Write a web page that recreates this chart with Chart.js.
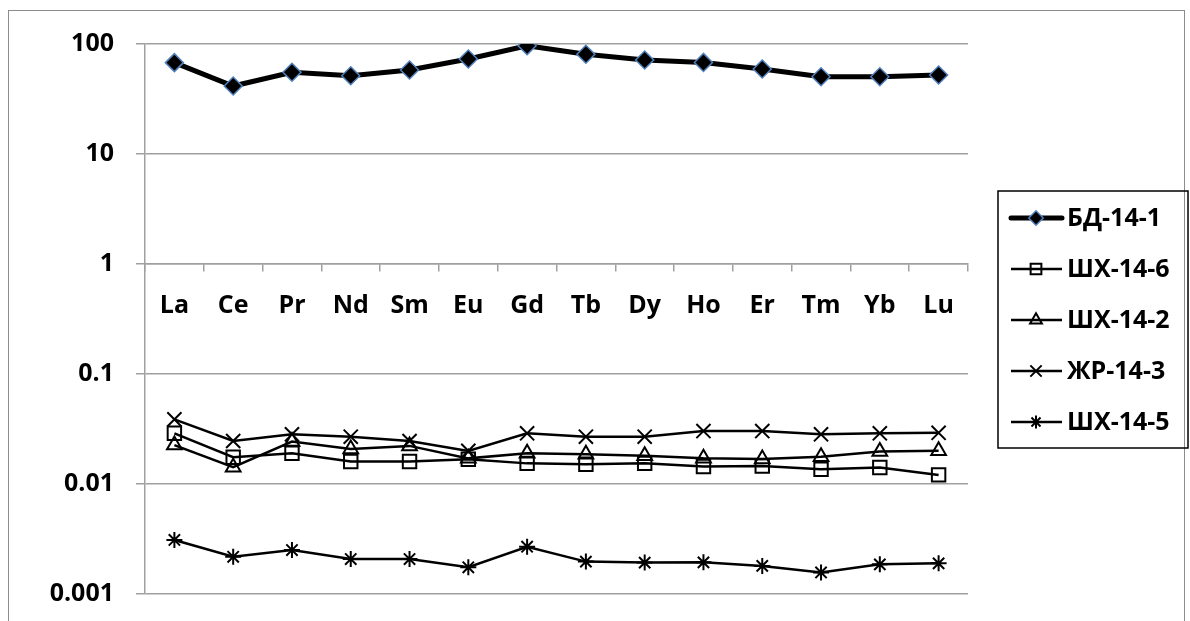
<!DOCTYPE html>
<html>
<head>
    <title>REE chart</title>
    <style>
        body { margin: 0; background: #fff; }
        canvas { display: block; }
    </style>
</head>
<body>
    <canvas id="reeChart" width="1190" height="621"></canvas>

    <script src="https://cdn.jsdelivr.net/npm/chart.js"></script>
    <script>
        const elements = ['La', 'Ce', 'Pr', 'Nd', 'Sm', 'Eu', 'Gd', 'Tb', 'Dy', 'Ho', 'Er', 'Tm', 'Yb', 'Lu'];
        const yTicks = [0.001, 0.01, 0.1, 1, 10, 100];
        const yTickLabels = ['0.001', '0.01', '0.1', '1', '10', '100'];

        const bd14_1 = [67.7, 41.5, 55.3, 51.5, 58, 73, 96.5, 80.6, 71.6, 68, 59.3, 50.4, 50.4, 52.3];
        const shx14_6 = [0.0289, 0.0175, 0.019, 0.016, 0.016, 0.0168, 0.0154, 0.0151, 0.0154, 0.0144, 0.0146, 0.0136, 0.0141, 0.0121];
        const shx14_2 = [0.0226, 0.0142, 0.0243, 0.0208, 0.0222, 0.0171, 0.019, 0.0186, 0.0181, 0.0171, 0.0169, 0.0177, 0.0197, 0.0201];
        const zhr14_3 = [0.0387, 0.0246, 0.0283, 0.0269, 0.0246, 0.02, 0.0289, 0.0269, 0.0269, 0.0303, 0.0303, 0.0283, 0.0289, 0.0292];
        const shx14_5 = [0.0031, 0.00218, 0.00251, 0.00208, 0.00208, 0.00175, 0.00269, 0.00197, 0.00193, 0.00194, 0.0018, 0.00157, 0.00186, 0.0019];

        const gridGrey = '#a0a0a0';
        const fontFamily = "'Open Sans', Lato, sans-serif";

        function thin(label, data, style, radius) {
            return {
                label: label,
                data: data,
                borderColor: '#000',
                borderWidth: 2.5,
                pointStyle: style,
                pointRadius: radius,
                pointBorderColor: '#000',
                pointBorderWidth: 2,
                pointBackgroundColor: 'rgba(0,0,0,0)',
                tension: 0
            };
        }

        // legend box drawn by hand, the library legend can't show line + marker
        const legendBox = {
            id: 'legendBox',
            afterDraw(chart) {
                const ctx = chart.ctx;
                ctx.save();
                ctx.strokeStyle = '#000';
                ctx.lineWidth = 1.5;
                ctx.strokeRect(998, 191, 190, 257);
                chart.data.datasets.forEach((ds, i) => {
                    const y = 218 + i * 51;
                    ctx.strokeStyle = '#000';
                    ctx.lineWidth = ds.borderWidth;
                    ctx.lineCap = i === 0 ? 'round' : 'butt';
                    ctx.beginPath();
                    ctx.moveTo(1011, y);
                    ctx.lineTo(1062, y);
                    ctx.stroke();
                    ctx.fillStyle = ds.pointBackgroundColor;
                    ctx.strokeStyle = ds.pointBorderColor;
                    ctx.lineWidth = ds.pointBorderWidth;
                    Chart.helpers.drawPoint(ctx, { pointStyle: ds.pointStyle, radius: ds.pointRadius * 0.8, borderWidth: ds.pointBorderWidth }, 1036, y);
                    ctx.fillStyle = '#000';
                    ctx.font = 'bold 25px ' + fontFamily;
                    ctx.textBaseline = 'middle';
                    ctx.fillText(ds.label, 1067, y + 1);
                });
                ctx.restore();
            }
        };

        const frame = {
            id: 'frame',
            beforeDraw(chart) {
                const ctx = chart.ctx;
                ctx.save();
                ctx.strokeStyle = '#8c8c8c';
                ctx.lineWidth = 1;
                ctx.strokeRect(8.5, 10.5, 1176, 620);
                ctx.restore();
            }
        };

        const ctx = document.getElementById('reeChart').getContext('2d');
        new Chart(ctx, {
            type: 'line',
            data: {
                labels: elements,
                datasets: [
                    {
                        label: 'БД-14-1',
                        data: bd14_1,
                        borderColor: '#000',
                        borderWidth: 5,
                        pointStyle: 'rectRot',
                        pointRadius: 9,
                        pointBorderColor: '#4f81bd',
                        pointBorderWidth: 1.5,
                        pointBackgroundColor: '#000',
                        tension: 0
                    },
                    thin('ШХ-14-6', shx14_6, 'rect', 9.5),
                    thin('ШХ-14-2', shx14_2, 'triangle', 8.5),
                    thin('ЖР-14-3', zhr14_3, 'crossRot', 10),
                    thin('ШХ-14-5', shx14_5, 'star', 8)
                ]
            },
            options: {
                responsive: false,
                animation: false,
                devicePixelRatio: 1,
                layout: { padding: { left: 0, top: 44, right: 222, bottom: 27 } },
                plugins: {
                    legend: { display: false },
                    tooltip: { enabled: false }
                },
                scales: {
                    x: {
                        position: { y: 1 },
                        offset: true,
                        grid: {
                            offset: true,
                            drawOnChartArea: false,
                            drawTicks: true,
                            tickLength: 7,
                            color: gridGrey,
                            lineWidth: 1.5
                        },
                        border: { color: gridGrey, width: 1.5 },
                        ticks: {
                            color: '#000',
                            padding: 20,
                            maxRotation: 0,
                            autoSkip: false,
                            font: { family: fontFamily, weight: 'bold', size: 25 }
                        }
                    },
                    y: {
                        type: 'logarithmic',
                        min: 0.001,
                        max: 100,
                        afterBuildTicks: scale => {
                            scale.ticks = yTicks.map(v => ({ value: v }));
                        },
                        afterFit: scale => {
                            scale.width = 145;
                            scale.paddingTop = 0;
                            scale.paddingBottom = 0;
                        },
                        grid: {
                            color: gridGrey,
                            lineWidth: 1.5,
                            tickLength: 9
                        },
                        border: { color: gridGrey, width: 1.5 },
                        ticks: {
                            color: '#000',
                            padding: 22,
                            font: { family: fontFamily, weight: 'bold', size: 25 },
                            callback: (v) => {
                                const i = yTicks.indexOf(v);
                                return i >= 0 ? yTickLabels[i] : '';
                            }
                        }
                    }
                }
            },
            plugins: [frame, legendBox]
        });
    </script>
</body>
</html>
